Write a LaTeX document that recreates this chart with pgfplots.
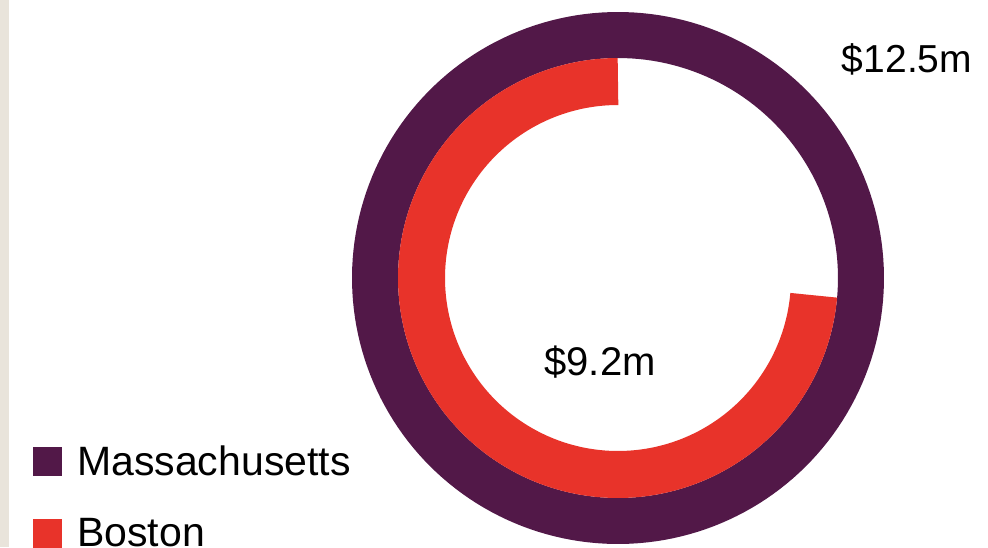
\documentclass[border=0pt]{standalone}
\usepackage{pgfplots}
\pgfplotsset{compat=1.18}
\usepackage{pgfplotstable}
\usepgfplotslibrary{polar}
\usepackage{fontspec}
\setmainfont{Liberation Sans}
\definecolor{mapurple}{HTML}{521848}
\definecolor{bosred}{HTML}{E8332A}
\definecolor{strip}{HTML}{E9E4DB}
\pgfplotstableread{
region value
Massachusetts 12.5
Boston 9.2
}\ringdata
\begin{document}
\begin{tikzpicture}
\pgfplotstablegetelem{0}{value}\of\ringdata \let\vMA\pgfplotsretval
\pgfplotstablegetelem{1}{value}\of\ringdata \let\vBO\pgfplotsretval
\pgfmathsetmacro{\aMA}{90+\vMA/\vMA*360}
\pgfmathsetmacro{\aBO}{90+\vBO/\vMA*360}
\fill[white] (0,0) rectangle (988pt,547pt);
\fill[strip] (0,0) rectangle (9pt,547pt);
\useasboundingbox (0,0) rectangle (988pt,547pt);
\begin{polaraxis}[
  at={(618pt,269pt)}, anchor=origin,
  scale only axis, width=532pt, height=532pt,
  hide axis, xmin=0, xmax=360, ymin=0, ymax=266, clip=false,
  legend image code/.code={\fill[#1, draw=none, line width=0pt] (0pt,-14.5pt) rectangle (29pt,14.5pt);},
  legend cell align=left,
  legend style={at={(axis description cs:-0.5996,0.1842)}, anchor=north west,
    draw=none, fill=none, inner sep=0pt, row sep=41pt,
    font=\fontsize{41}{41}\selectfont,
    nodes={inner sep=0pt},
    /tikz/every odd column/.append style={column sep=15pt}},
]
\addplot[color=mapurple, line width=46pt, domain=88:{\aMA+2}, samples=200] {243};
\addlegendentry{Massachusetts}
\addplot[color=bosred, line width=47pt, domain=90:\aBO, samples=200] {196.5};
\addlegendentry{Boston}
\end{polaraxis}
\node[anchor=base, font=\fontsize{39}{39}\selectfont, inner sep=0pt] at (907pt,474pt) {\$12.5m};
\node[anchor=base, font=\fontsize{40}{40}\selectfont, inner sep=0pt] at (600pt,172pt) {\$9.2m};
\end{tikzpicture}
\end{document}
